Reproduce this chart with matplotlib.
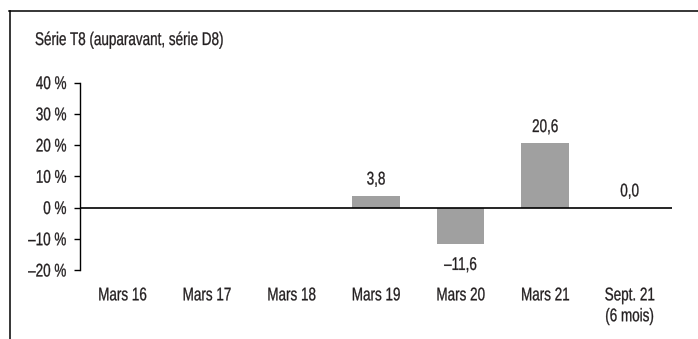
import matplotlib.pyplot as plt
from matplotlib.lines import Line2D
from matplotlib.patheffects import AbstractPathEffect
from matplotlib.transforms import Affine2D

plt.rcParams['font.family'] = ['Liberation Sans', 'DejaVu Sans']

categories = ["Mars 16", "Mars 17", "Mars 18", "Mars 19", "Mars 20", "Mars 21", "Sept. 21\n(6 mois)"]
values = [None, None, None, 3.8, -11.6, 20.6, 0.0]
y_ticks = [-20, -10, 0, 10, 20, 30, 40]

TXT = "#231f20"
FS = 13.2


class Condense(AbstractPathEffect):
    """Resserre horizontalement le texte (police étroite), avec un léger contour."""

    def __init__(self, sx=0.735, anchor="center", stroke=0.2):
        super().__init__()
        self.sx = sx
        self.anchor = anchor
        self.stroke = stroke

    def draw_path(self, renderer, gc, tpath, affine, rgbFace=None):
        ext = tpath.get_extents()
        cx = {"left": 0.0, "right": ext.x1, "center": (ext.x0 + ext.x1) / 2}[self.anchor]
        t = Affine2D().translate(-cx, 0).scale(self.sx, 1).translate(cx, 0)
        gc0 = renderer.new_gc()
        gc0.copy_properties(gc)
        gc0.set_linewidth(self.stroke)
        gc0.set_foreground(rgbFace)
        gc0.set_joinstyle("round")
        renderer.draw_path(gc0, tpath, t + affine, rgbFace)
        gc0.restore()


def fmt_fr(v, decimals=1):
    s = f"{abs(v):.{decimals}f}".replace(".", ",")
    return ("–" if v < 0 else "") + s


fig = plt.figure(figsize=(6.98, 3.39), dpi=100)
W, H = 698, 339
ax = fig.add_axes([80 / W, 69 / H, 592 / W, 187.5 / H])

x = list(range(len(categories)))
for xi, v in zip(x, values):
    if v is None:
        continue
    ax.bar(xi, v, width=0.56, color="#a0a0a0", zorder=2)
    if v >= 0:
        ax.annotate(fmt_fr(v), (xi, v), xytext=(0, 8), textcoords="offset points",
                    ha="center", va="baseline", fontsize=FS, color=TXT,
                    path_effects=[Condense()])
    else:
        ax.annotate(fmt_fr(v), (xi, v), xytext=(0, -9.5), textcoords="offset points",
                    ha="center", va="top", fontsize=FS, color=TXT,
                    path_effects=[Condense()])

ax.axhline(0, color="black", lw=1.2, zorder=3)
ax.set_xlim(-0.5, len(categories) - 0.5)
ax.set_ylim(-20, 40)
ax.set_yticks(y_ticks)
ax.set_yticklabels([("–" if t < 0 else "") + f"{abs(t)} %" for t in y_ticks])
ax.set_xticks(x)
ax.set_xticklabels(categories, linespacing=1.3)
ax.tick_params(axis="y", direction="out", length=4.3, width=1.0, labelsize=FS, pad=5.3,
               colors="black", labelcolor=TXT)
ax.tick_params(axis="x", length=0, labelsize=FS, pad=12.5, labelcolor=TXT)
for s in ["top", "right", "bottom"]:
    ax.spines[s].set_visible(False)
ax.spines["left"].set_linewidth(1.0)

plt.setp(ax.get_yticklabels(), path_effects=[Condense(anchor="right")])
plt.setp(ax.get_xticklabels(), path_effects=[Condense()])

fig.text(35 / W, 1 - 45 / H, "Série T8 (auparavant, série D8)", fontsize=FS,
         va="baseline", ha="left", color=TXT, path_effects=[Condense(anchor="left")])

# cadre partiel (haut et gauche)
fig.add_artist(Line2D([9 / W, 1], [1 - 10.5 / H, 1 - 10.5 / H], color="black", lw=1.1))
fig.add_artist(Line2D([9.5 / W, 9.5 / W], [0, 1 - 10.5 / H], color="black", lw=1.1))

fig.savefig("out.png", dpi=100)
